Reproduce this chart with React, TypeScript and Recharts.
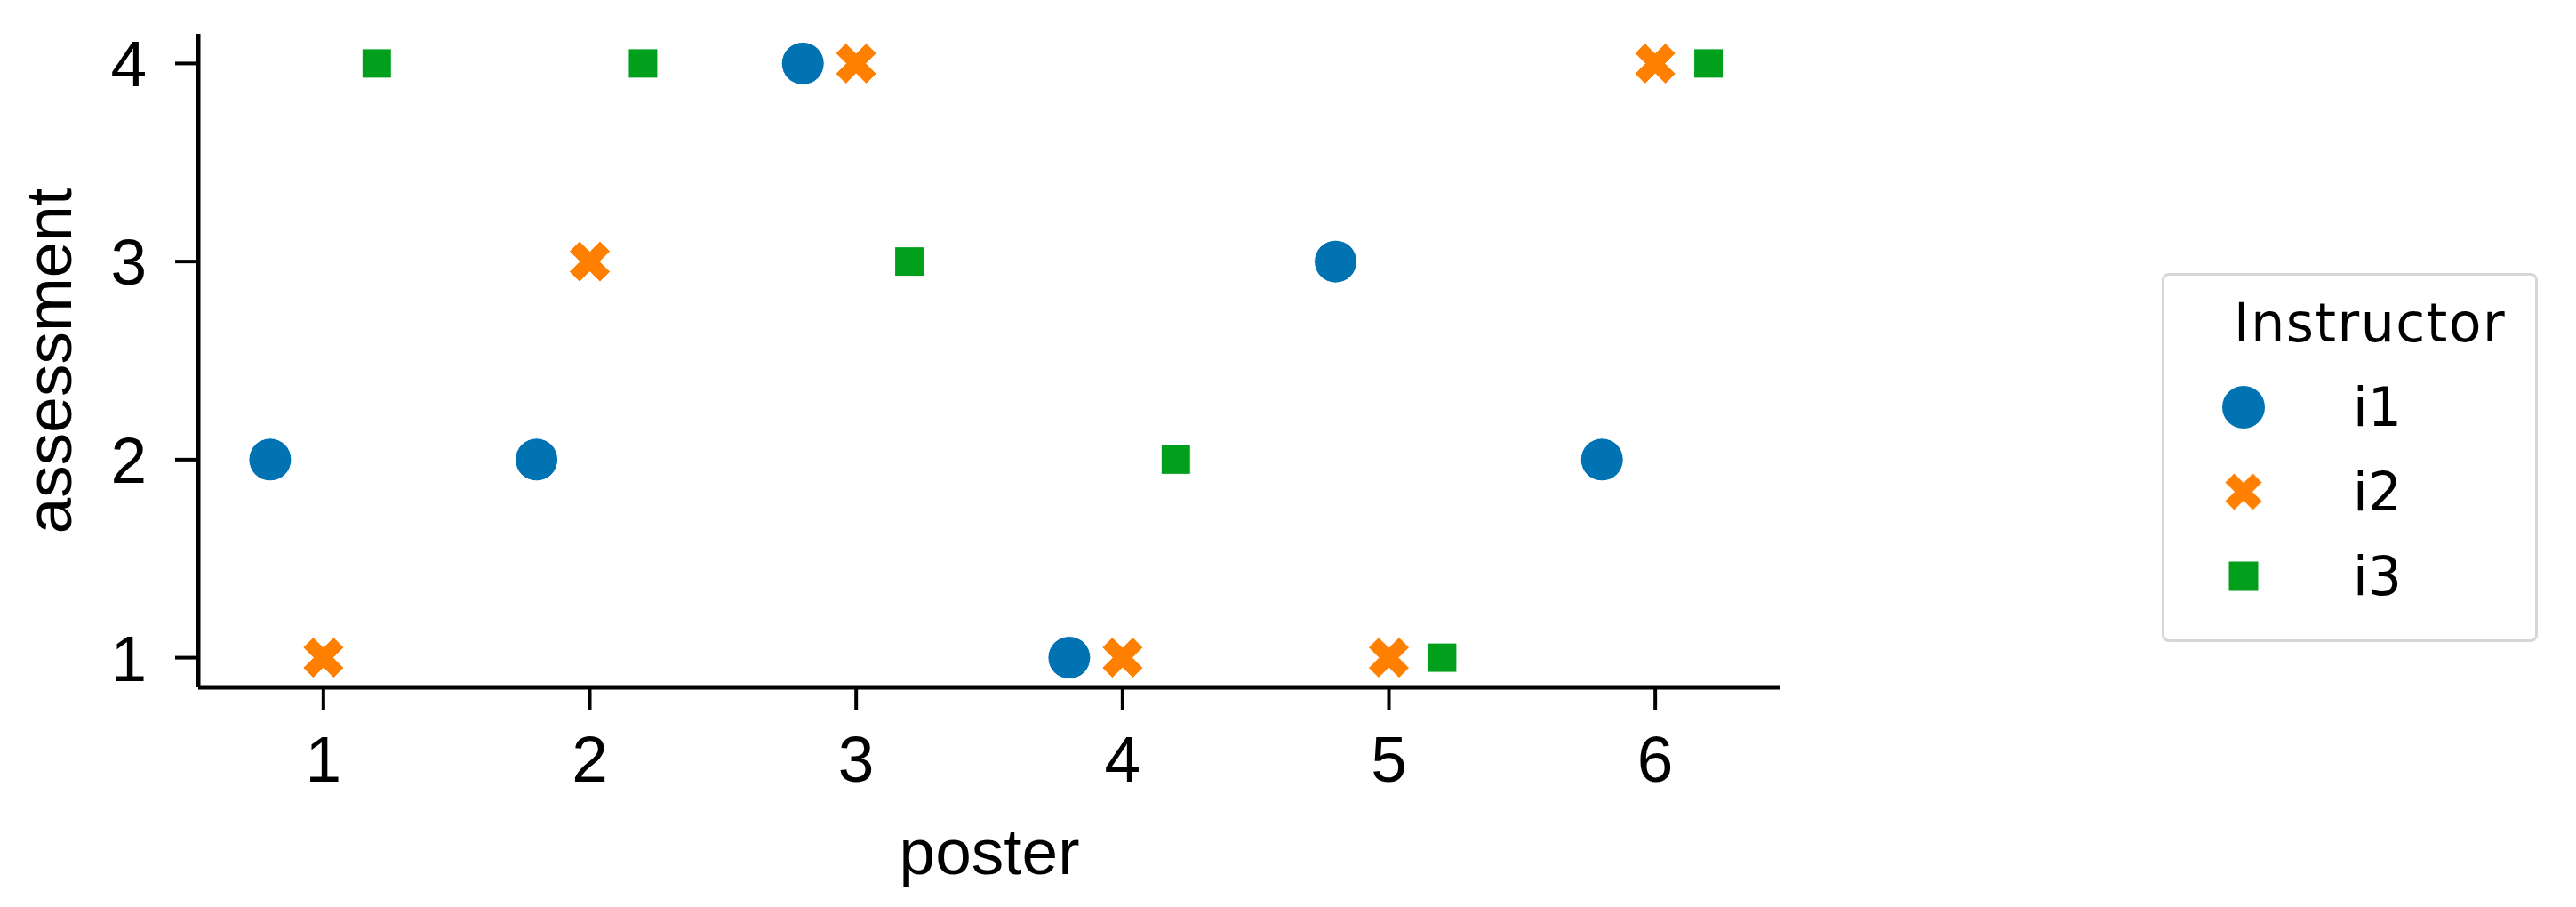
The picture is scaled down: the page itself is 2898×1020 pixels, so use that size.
import React from "react";
import { Legend, Scatter, ScatterChart, XAxis, YAxis } from "recharts";

// values (x is poster position incl. dodge offset)
const i1Poster = [0.8, 1.8, 2.8, 3.8, 4.8, 5.8];
const i1Assessment = [2, 2, 4, 1, 3, 2];
const i2Poster = [1, 2, 3, 4, 5, 6];
const i2Assessment = [1, 3, 4, 1, 1, 4];
const i3Poster = [1.2, 2.2, 3.2, 4.2, 5.2, 6.2];
const i3Assessment = [4, 4, 3, 2, 1, 4];

const posterTicks = [1, 2, 3, 4, 5, 6];
const assessmentTicks = [1, 2, 3, 4];

const BLUE = "#0173b2";
const ORANGE = "#ff7f00";
const GREEN = "#00a01c";

const FONT = "'Liberation Sans', Arial, sans-serif";

const toPoints = (xs: number[], ys: number[]) => xs.map((x, i) => ({ poster: x, assessment: ys[i] }));

const Circle = ({ cx, cy, fill }: any) => (
  <circle cx={cx} cy={cy} r={24} fill={fill} stroke="#fff" strokeWidth={1} />
);

const X_VERTS = [
  [-0.25, -0.5], [0, -0.25], [0.25, -0.5], [0.5, -0.25], [0.25, 0], [0.5, 0.25],
  [0.25, 0.5], [0, 0.25], [-0.25, 0.5], [-0.5, 0.25], [-0.25, 0], [-0.5, -0.25],
];
const Cross = ({ cx, cy, fill, markerSize = 46 }: any) => (
  <path
    d={"M" + X_VERTS.map(([a, b]) => `${cx + a * markerSize},${cy + b * markerSize}`).join("L") + "Z"}
    fill={fill}
    stroke="#fff"
    strokeWidth={1}
    strokeLinejoin="round"
  />
);

const Square = ({ cx, cy, fill, side = 33 }: any) => (
  <rect x={cx - side / 2} y={cy - side / 2} width={side} height={side} fill={fill} stroke="#fff" strokeWidth={1} />
);

const series = [
  { name: "i1", color: BLUE, shape: Circle, data: toPoints(i1Poster, i1Assessment) },
  { name: "i2", color: ORANGE, shape: Cross, data: toPoints(i2Poster, i2Assessment) },
  { name: "i3", color: GREEN, shape: Square, data: toPoints(i3Poster, i3Assessment) },
];

function LegendBox() {
  return (
    <div
      style={{
        width: 423,
        height: 415,
        boxSizing: "border-box",
        border: "3px solid #d6d6d6",
        borderRadius: 8,
        background: "#fff",
        position: "relative",
        fontFamily: "'DejaVu Sans', sans-serif",
        color: "#000",
      }}
    >
      <div style={{ position: "absolute", left: 78, top: 18, fontSize: 60, lineHeight: "70px", letterSpacing: 1.5 }}>
        Instructor
      </div>
      {series.map((s, i) => {
        const Shape = s.shape;
        return (
          <div key={s.name} style={{ position: "absolute", left: 0, top: 148 + i * 95 - 35, height: 70, width: 400 }}>
            <svg width={140} height={70} style={{ position: "absolute", left: 0, top: 0 }}>
              {Shape === Circle && <circle cx={89} cy={35} r={24} fill={s.color} />}
              {Shape === Cross && <Cross cx={89} cy={35} fill={s.color} markerSize={42} />}
              {Shape === Square && <Square cx={89} cy={35} fill={s.color} side={34} />}
            </svg>
            <div style={{ position: "absolute", left: 212, top: 0, fontSize: 60, lineHeight: "70px" }}>{s.name}</div>
          </div>
        );
      })}
    </div>
  );
}

export default function App() {
  return (
    <ScatterChart
      width={2880}
      height={1004}
      margin={{ top: 30, right: 885, bottom: 0, left: 0 }}
      style={{ fontFamily: FONT }}
    >
      <XAxis
        type="number"
        dataKey="poster"
        domain={[0.53, 6.47]}
        ticks={posterTicks}
        allowDataOverflow
        height={239}
        tickSize={26}
        tickMargin={28}
        axisLine={{ stroke: "#000", strokeWidth: 5 }}
        tickLine={{ stroke: "#000", strokeWidth: 4 }}
        tick={{ fill: "#000", fontSize: 73 }}
        label={{ value: "poster", position: "insideBottom", offset: 29, fill: "#000", fontSize: 73 }}
      />
      <YAxis
        type="number"
        dataKey="assessment"
        domain={[0.85, 4.15]}
        ticks={assessmentTicks}
        allowDataOverflow
        width={215}
        tickSize={26}
        tickMargin={32}
        axisLine={{ stroke: "#000", strokeWidth: 5 }}
        tickLine={{ stroke: "#000", strokeWidth: 4 }}
        tick={{ fill: "#000", fontSize: 73 }}
        label={{
          value: "assessment",
          angle: -90,
          position: "insideLeft",
          offset: 46,
          fill: "#000",
          fontSize: 73,
          style: { textAnchor: "middle" },
        }}
      />
      {series.map((s) => (
        <Scatter
          key={s.name}
          name={s.name}
          data={s.data}
          fill={s.color}
          shape={s.shape}
          isAnimationActive={false}
        />
      ))}
      <Legend
        layout="vertical"
        align="center"
        verticalAlign="middle"
        wrapperStyle={{ left: 2424, top: 299, width: 423, height: 415 }}
        content={() => <LegendBox />}
      />
    </ScatterChart>
  );
}
